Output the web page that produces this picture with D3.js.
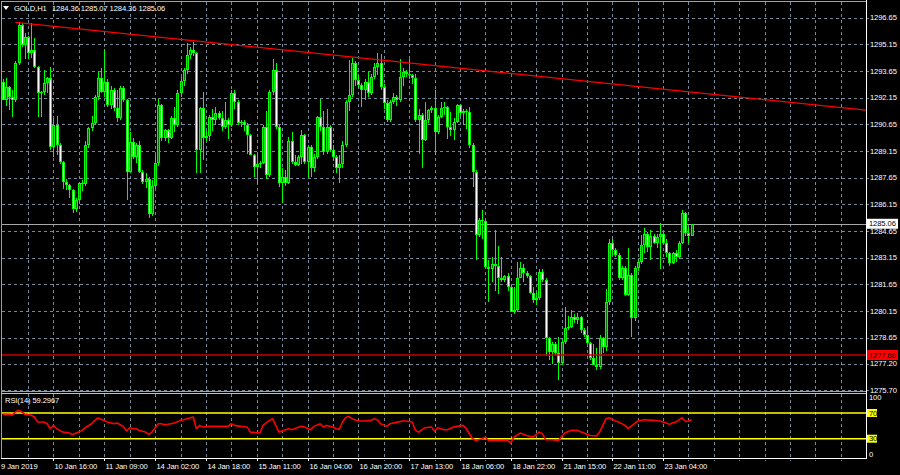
<!DOCTYPE html>
<html><head><meta charset="utf-8">
<script src="https://cdn.jsdelivr.net/npm/d3@7"></script>
<style>html,body{margin:0;padding:0;background:#000;overflow:hidden}svg{display:block}</style>
</head><body>
<svg id="c" width="900" height="475"></svg>
<script>
const symbol = "GOLD,H1";
const opens = [1293.05,1292.02,1292.77,1292.20,1292.00,1294.09,1296.24,1295.11,1295.58,1294.65,1294.83,1293.89,1292.40,1292.49,1293.00,1293.24,1289.40,1290.60,1289.49,1288.55,1287.43,1287.24,1286.96,1285.90,1286.40,1287.34,1287.30,1289.50,1290.43,1290.71,1292.21,1293.24,1292.49,1293.05,1291.74,1292.58,1291.55,1291.00,1292.70,1292.00,1288.00,1289.68,1288.83,1289.50,1288.00,1287.43,1287.60,1285.60,1287.20,1288.46,1291.74,1289.87,1290.33,1289.90,1291.00,1290.60,1292.40,1293.10,1293.70,1294.55,1294.83,1294.65,1289.20,1291.55,1289.87,1290.00,1291.08,1290.90,1291.27,1291.00,1290.52,1290.90,1290.62,1292.40,1291.93,1290.71,1290.80,1290.62,1290.05,1288.93,1288.27,1288.40,1288.46,1290.52,1287.80,1292.49,1293.71,1290.52,1287.34,1287.70,1287.34,1289.70,1288.55,1288.37,1288.80,1290.05,1288.55,1289.40,1288.18,1288.80,1291.08,1290.52,1289.12,1290.50,1289.21,1288.80,1288.18,1288.40,1289.49,1291.93,1292.30,1294.09,1293.15,1292.86,1292.60,1293.05,1292.40,1293.30,1293.90,1294.10,1292.77,1291.83,1290.90,1291.93,1292.20,1292.00,1293.33,1293.60,1293.50,1293.40,1293.24,1290.90,1291.20,1289.77,1290.90,1291.46,1291.55,1290.24,1291.08,1291.55,1291.60,1290.52,1290.33,1290.80,1291.74,1291.27,1291.40,1291.36,1289.49,1287.99,1284.43,1285.27,1285.20,1282.65,1282.50,1282.80,1282.70,1282.00,1281.90,1282.10,1281.52,1280.12,1280.20,1282.00,1282.60,1282.30,1282.10,1281.15,1280.80,1280.90,1282.37,1281.90,1278.62,1277.87,1278.30,1277.78,1277.21,1278.43,1279.20,1279.27,1279.84,1279.65,1279.84,1279.09,1278.80,1278.34,1277.50,1277.12,1277.02,1278.62,1278.15,1280.68,1283.96,1283.59,1283.30,1282.00,1282.56,1281.06,1282.18,1279.74,1282.56,1282.93,1283.87,1284.50,1283.77,1284.40,1284.00,1284.30,1284.50,1284.00,1283.40,1282.84,1283.40,1283.20,1284.00,1285.65,1284.52,1284.36];
const highs = [1293.20,1293.24,1292.80,1292.60,1294.20,1296.40,1296.34,1295.80,1295.60,1296.34,1295.50,1293.95,1292.50,1293.70,1293.30,1293.90,1291.00,1291.10,1289.60,1288.60,1287.60,1287.30,1287.00,1286.50,1287.40,1287.52,1289.70,1290.50,1291.10,1292.30,1293.60,1293.80,1294.90,1293.20,1292.80,1292.70,1292.60,1292.80,1292.80,1292.10,1290.20,1289.90,1289.60,1289.70,1288.10,1287.90,1287.70,1287.50,1288.90,1292.10,1291.80,1290.40,1290.40,1291.10,1291.60,1292.60,1293.30,1293.80,1295.20,1295.00,1295.30,1294.70,1291.60,1292.49,1290.30,1291.20,1291.50,1291.60,1291.40,1291.40,1291.93,1291.00,1292.60,1292.60,1292.00,1290.90,1290.90,1290.70,1290.10,1289.00,1289.00,1288.60,1290.60,1291.40,1292.60,1294.30,1294.09,1290.60,1288.20,1288.10,1289.96,1290.20,1288.90,1288.90,1290.33,1290.10,1289.50,1289.50,1289.00,1291.10,1292.10,1291.40,1291.50,1290.60,1289.50,1288.90,1288.90,1289.70,1292.00,1294.27,1294.40,1294.20,1293.40,1293.00,1293.20,1293.60,1293.50,1294.10,1294.65,1294.60,1292.90,1292.00,1292.00,1292.40,1292.30,1294.35,1293.80,1293.70,1294.35,1293.50,1293.50,1291.50,1291.30,1291.90,1291.50,1291.70,1292.60,1291.20,1291.90,1291.90,1291.70,1291.36,1291.00,1291.80,1291.80,1291.50,1291.50,1291.60,1289.60,1288.10,1285.40,1285.84,1285.30,1283.00,1283.20,1284.70,1283.80,1283.20,1282.20,1282.30,1281.60,1281.50,1282.90,1282.90,1282.80,1282.40,1282.20,1281.50,1281.20,1282.50,1282.50,1282.00,1278.70,1278.40,1278.40,1278.70,1278.50,1280.40,1279.90,1280.20,1280.00,1280.03,1279.90,1279.20,1279.30,1278.40,1278.30,1278.10,1278.80,1278.70,1281.40,1284.20,1284.20,1283.70,1283.40,1282.70,1282.70,1283.68,1282.30,1282.70,1283.10,1284.43,1284.81,1284.60,1284.70,1284.50,1284.50,1285.09,1284.60,1284.20,1283.50,1283.50,1283.60,1284.10,1285.84,1285.70,1284.90,1285.07];
const lows = [1292.00,1291.70,1291.46,1291.08,1291.90,1294.00,1295.00,1294.30,1294.30,1294.40,1293.80,1291.08,1291.08,1292.30,1292.40,1289.20,1288.80,1288.90,1288.40,1287.00,1286.96,1286.50,1285.65,1285.70,1286.20,1286.90,1287.20,1289.30,1290.30,1290.60,1292.00,1292.40,1292.20,1291.60,1291.50,1291.40,1290.80,1290.90,1291.90,1286.40,1287.90,1288.70,1288.50,1287.90,1287.30,1287.10,1285.37,1285.50,1287.10,1288.30,1289.70,1289.70,1289.60,1289.80,1290.20,1290.50,1292.20,1292.80,1293.50,1294.30,1294.50,1287.90,1287.90,1288.65,1289.70,1289.70,1290.30,1290.60,1290.90,1290.30,1290.40,1289.80,1290.50,1291.50,1290.60,1290.50,1290.30,1289.00,1288.90,1287.70,1287.24,1288.20,1288.40,1287.60,1287.70,1292.30,1290.40,1287.15,1286.21,1287.20,1287.30,1288.40,1288.30,1288.30,1288.40,1288.40,1287.71,1287.71,1288.00,1288.70,1290.30,1288.90,1289.00,1289.10,1288.60,1287.90,1287.34,1288.20,1289.40,1291.40,1292.20,1292.80,1292.70,1291.60,1292.00,1292.20,1292.30,1293.20,1293.40,1292.60,1291.50,1290.80,1290.80,1291.80,1291.70,1291.90,1292.80,1293.30,1293.20,1292.90,1290.80,1289.00,1288.18,1289.70,1290.70,1291.30,1288.93,1290.10,1291.00,1291.20,1289.80,1290.00,1289.77,1290.70,1291.10,1290.60,1290.40,1289.30,1287.15,1283.00,1284.30,1284.20,1282.50,1280.68,1281.80,1281.30,1281.10,1281.80,1281.80,1281.30,1280.10,1280.00,1280.10,1282.00,1281.80,1282.00,1281.10,1280.60,1280.50,1280.80,1281.80,1277.60,1277.40,1277.20,1277.70,1276.27,1277.10,1278.30,1279.10,1279.20,1279.50,1279.40,1278.90,1278.70,1278.30,1277.40,1277.10,1276.84,1276.90,1277.80,1277.90,1280.50,1283.30,1283.20,1281.90,1281.90,1281.00,1281.00,1278.71,1279.60,1282.40,1282.80,1283.40,1283.50,1283.00,1283.90,1283.70,1282.50,1283.90,1283.20,1282.70,1282.80,1282.90,1283.10,1283.90,1284.40,1284.00,1284.36];
const closes = [1292.02,1292.77,1292.20,1292.00,1294.09,1296.24,1295.11,1295.58,1294.65,1294.83,1293.89,1292.40,1292.49,1293.00,1293.24,1289.40,1290.60,1289.49,1288.55,1287.43,1287.24,1286.96,1285.90,1286.40,1287.34,1287.30,1289.50,1290.43,1290.71,1292.21,1293.24,1292.49,1293.05,1291.74,1292.58,1291.55,1291.00,1292.70,1292.00,1288.00,1289.68,1288.83,1289.50,1288.00,1287.43,1287.60,1285.60,1287.20,1288.46,1291.74,1289.87,1290.33,1289.90,1291.00,1290.60,1292.40,1293.10,1293.70,1294.55,1294.83,1294.65,1289.20,1291.55,1289.87,1290.00,1291.08,1290.90,1291.27,1291.00,1290.52,1290.90,1290.62,1292.40,1291.93,1290.71,1290.80,1290.62,1290.05,1288.93,1288.27,1288.40,1288.46,1290.52,1287.80,1292.49,1293.71,1290.52,1287.34,1287.70,1287.34,1289.70,1288.55,1288.37,1288.80,1290.05,1288.55,1289.40,1288.18,1288.80,1291.08,1290.52,1289.12,1290.50,1289.21,1288.80,1288.18,1288.40,1289.49,1291.93,1292.30,1294.09,1293.15,1292.86,1292.60,1293.05,1292.40,1293.30,1293.90,1294.10,1292.77,1291.83,1290.90,1291.93,1292.20,1292.00,1293.33,1293.60,1293.50,1293.40,1293.24,1290.90,1291.20,1289.77,1290.90,1291.46,1291.55,1290.24,1291.08,1291.55,1291.60,1290.52,1290.33,1290.80,1291.74,1291.27,1291.40,1291.36,1289.49,1287.99,1284.43,1285.27,1285.20,1282.65,1282.50,1282.80,1282.70,1282.00,1281.90,1282.10,1281.52,1280.12,1280.20,1282.00,1282.60,1282.30,1282.10,1281.15,1280.80,1280.90,1282.37,1281.90,1278.62,1277.87,1278.30,1277.78,1277.21,1278.43,1279.20,1279.27,1279.84,1279.65,1279.84,1279.09,1278.80,1278.34,1277.50,1277.12,1277.02,1278.62,1278.15,1280.68,1283.96,1283.59,1283.30,1282.00,1282.56,1281.06,1282.18,1279.74,1282.56,1282.93,1283.87,1284.50,1283.77,1284.40,1284.00,1284.30,1284.50,1284.00,1283.40,1282.84,1283.40,1283.20,1284.00,1285.65,1284.52,1284.36,1285.06];

const timeLabels = ["9 Jan 2019","10 Jan 16:00","11 Jan 09:00","14 Jan 02:00","14 Jan 18:00","15 Jan 11:00","16 Jan 04:00","16 Jan 20:00","17 Jan 13:00","18 Jan 06:00","18 Jan 22:00","21 Jan 15:00","22 Jan 11:00","23 Jan 04:00"];
const timeLabelBars = [0,16,32,48,64,80,96,112,128,144,160,176,192,208];
const priceTicks = [1296.65,1295.15,1293.65,1292.15,1290.65,1289.15,1287.65,1286.15,1284.65,1283.15,1281.65,1280.15,1278.65,1277.20,1275.70];
const trendAnchors = [[4,1296.39],[214,1292.52]];
const levelPrice = 1277.68;
const bidPrice = 1285.06;

const rsiBars = [0,2,3,4,5,6,7,9,10,11,13,14,15,16,17,18,19,21,22,24,25,26,28,29,30,32,33,35,36,38,39,40,41,42,43,45,46,47,49,50,51,53,54,56,57,60,61,62,63,65,67,71,72,73,75,77,78,81,82,84,85,86,87,88,90,91,94,95,97,98,100,101,102,104,105,106,107,108,109,110,112,114,116,117,118,119,121,122,124,126,127,129,130,131,133,135,136,137,139,140,142,143,145,146,147,148,149,151,152,153,157,159,160,161,163,165,167,169,170,171,173,175,177,179,181,183,185,187,188,190,191,193,194,196,197,199,200,202,205,207,209,210,211,212,214,215,216,217];
const rsiValues = [67.9,67.9,66.4,71.6,74.2,71.6,67.9,66.4,63.8,55.9,55.9,53.3,45.5,50.7,45.5,42.9,40.3,38.8,36.7,40.3,42.9,47.1,53.3,58.5,62.2,58.5,55.9,53.3,54.4,49.2,41.9,47.1,45.5,45.5,42.9,40.3,36.7,40.3,53.3,53.3,51.8,53.3,54.4,58.5,59.6,63.8,45.5,50.7,48.1,49.2,49.2,49.2,53.3,50.7,49.2,48.1,40.3,38.8,50.7,58.5,61.1,50.7,40.3,41.9,45.5,44.0,49.5,48.1,44.0,49.2,53.3,48.1,50.7,48.1,45.5,44.5,55.9,62.7,64.8,61.1,57.5,57.5,58.5,61.1,59.6,53.3,49.2,53.3,55.4,57.5,57.5,55.9,42.9,40.3,47.1,48.1,41.9,47.1,44.0,44.0,48.1,49.2,50.7,45.5,37.7,29.9,27.3,29.9,32.5,27.3,27.3,27.3,23.1,32.5,38.8,35.1,32.5,40.3,37.7,28.3,28.3,27.3,38.8,42.9,42.9,38.8,35.1,34.1,40.3,61.1,62.7,57.5,55.9,50.7,45.5,53.3,57.5,59.6,58.5,57.5,54.4,52.3,54.9,55.9,62.7,57.0,57.5,59.2967];
const rsiPeriod = 14;
const rsiLevels = [70,30];
const rsiTicks = [100,70,30,0];

const svg = d3.select("#c");
const W = 900, H = 475;
const L = 2, R = 866, mainTop = 2, mainBot = 391.5, rsiTop = 393.5, rsiBot = 458;
const gridColor = "#778899";
const font = "'Liberation Sans', Arial, sans-serif";
const fs = 7.6;

const x = d3.scaleLinear().domain([0, 272]).range([2.7, 866.3]);
const y = d3.scaleLinear().domain([1275.70, 1296.65]).range([390.2, 17.7]);
const r = d3.scaleLinear().domain([0, 100]).range([458, 393.7]);

svg.append("rect").attr("width", W).attr("height", H).attr("fill", "#000");
const defs = svg.append("defs");
defs.append("clipPath").attr("id", "mclip").append("rect").attr("x", L).attr("y", mainTop).attr("width", R - L).attr("height", mainBot - mainTop);
defs.append("clipPath").attr("id", "rclip").append("rect").attr("x", L).attr("y", rsiTop).attr("width", R - L).attr("height", rsiBot - rsiTop);

const px = v => Math.round(v) + 0.5;

// grid
const gridBars = d3.range(8, 272, 8);
const grid = svg.append("g").attr("stroke", gridColor).attr("stroke-dasharray", "3,3").attr("stroke-width", 1).attr("shape-rendering", "crispEdges");
grid.selectAll("line.vm").data(gridBars).join("line").attr("class", "vm")
  .attr("x1", d => px(x(d))).attr("x2", d => px(x(d))).attr("y1", mainTop).attr("y2", mainBot);
grid.selectAll("line.vr").data(gridBars).join("line").attr("class", "vr")
  .attr("x1", d => px(x(d))).attr("x2", d => px(x(d))).attr("y1", rsiTop).attr("y2", rsiBot + 3);
grid.selectAll("line.h").data(priceTicks).join("line").attr("class", "h")
  .attr("x1", L).attr("x2", R + 3).attr("y1", d => px(y(d))).attr("y2", d => px(y(d)));

// bid line
svg.append("line").attr("x1", L).attr("x2", R).attr("y1", px(y(bidPrice))).attr("y2", px(y(bidPrice)))
  .attr("stroke", "#a8a8a8").attr("stroke-width", 1).attr("shape-rendering", "crispEdges");

// candles
const candles = d3.range(closes.length).map(i => ({i, o: opens[i], h: highs[i], l: lows[i], c: closes[i]}));
const cg = svg.append("g").attr("clip-path", "url(#mclip)").attr("shape-rendering", "crispEdges");
cg.selectAll("line.wick").data(candles).join("line").attr("class", "wick")
  .attr("x1", d => px(x(d.i))).attr("x2", d => px(x(d.i)))
  .attr("y1", d => y(d.h)).attr("y2", d => y(d.l))
  .attr("stroke", "#00ff00").attr("stroke-width", 1);
cg.selectAll("rect.body").data(candles).join("rect").attr("class", "body")
  .attr("x", d => Math.round(x(d.i)) - 1).attr("width", 3)
  .attr("y", d => y(Math.max(d.o, d.c)))
  .attr("height", d => Math.max(1, Math.abs(y(d.o) - y(d.c))))
  .attr("fill", "#00ff00");
cg.selectAll("rect.inner").data(candles.filter(d => Math.abs(y(d.o) - y(d.c)) > 2)).join("rect").attr("class", "inner")
  .attr("x", d => Math.round(x(d.i))).attr("width", 1)
  .attr("y", d => y(Math.max(d.o, d.c)) + 1)
  .attr("height", d => Math.abs(y(d.o) - y(d.c)) - 2)
  .attr("fill", d => d.c >= d.o ? "#007800" : "#ffffff");

// horizontal level
svg.append("line").attr("x1", L).attr("x2", R).attr("y1", y(levelPrice)).attr("y2", y(levelPrice))
  .attr("stroke", "#c80000").attr("stroke-width", 1.6);

// trend line (ray)
const slope = (trendAnchors[1][1] - trendAnchors[0][1]) / (trendAnchors[1][0] - trendAnchors[0][0]);
const endBar = 272;
svg.append("line").attr("clip-path", "url(#mclip)")
  .attr("x1", x(trendAnchors[0][0])).attr("y1", y(trendAnchors[0][1]))
  .attr("x2", x(endBar)).attr("y2", y(trendAnchors[0][1] + slope * (endBar - trendAnchors[0][0])))
  .attr("stroke", "#ff0000").attr("stroke-width", 1.2);

// RSI levels
svg.selectAll("line.lvl").data(rsiLevels).join("line").attr("class", "lvl")
  .attr("x1", L).attr("x2", R).attr("y1", d => r(d)).attr("y2", d => r(d))
  .attr("stroke", "#ffff00").attr("stroke-width", 1.5);
// RSI line
const rsiData = rsiBars.map((b, k) => [b, rsiValues[k]]);
svg.append("path").attr("clip-path", "url(#rclip)").datum(rsiData)
  .attr("d", d3.line().x(d => x(d[0])).y(d => r(d[1])))
  .attr("fill", "none").attr("stroke", "#ff0000").attr("stroke-width", 1.6).attr("stroke-linejoin", "round");

// borders
const bg = svg.append("g").attr("fill", "none").attr("shape-rendering", "crispEdges");
bg.append("line").attr("x1", 1.5).attr("x2", 1.5).attr("y1", 1).attr("y2", rsiBot).attr("stroke", "#a0a0a0");
bg.append("line").attr("x1", 1).attr("x2", R).attr("y1", 1.5).attr("y2", 1.5).attr("stroke", "#a0a0a0");
bg.append("line").attr("x1", 1).attr("x2", R).attr("y1", 391.5).attr("y2", 391.5).attr("stroke", "#a0a0a0");
bg.append("line").attr("x1", 1).attr("x2", R).attr("y1", 393.5).attr("y2", 393.5).attr("stroke", "#c0c0c0");
bg.append("line").attr("x1", R + 0.5).attr("x2", R + 0.5).attr("y1", 0).attr("y2", rsiBot + 1).attr("stroke", "#ffffff");
bg.append("line").attr("x1", 1).attr("x2", R + 1).attr("y1", rsiBot + 0.5).attr("y2", rsiBot + 0.5).attr("stroke", "#ffffff");

// price axis labels
const txt = svg.append("g").attr("font-family", font).attr("font-size", fs).attr("fill", "#ffffff").attr("letter-spacing", "-0.1");
txt.selectAll("text.p").data(priceTicks).join("text").attr("class", "p")
  .attr("x", 870).attr("y", d => y(d)).attr("dy", "0.35em").text(d => d.toFixed(2));

// bid label box
const bidY = y(bidPrice);
svg.append("rect").attr("x", 867).attr("y", bidY - 5).attr("width", 31).attr("height", 10).attr("fill", "#ffffff");
svg.append("text").attr("x", 869).attr("y", bidY).attr("dy", "0.35em").attr("font-family", font).attr("font-size", fs)
  .attr("letter-spacing", "-0.1").attr("fill", "#000").text(bidPrice.toFixed(2));
// level label box
const lvY = y(levelPrice);
svg.append("rect").attr("x", 867).attr("y", lvY - 5).attr("width", 31).attr("height", 10).attr("fill", "#ff0000");
svg.append("text").attr("x", 869).attr("y", lvY).attr("dy", "0.35em").attr("font-family", font).attr("font-size", fs)
  .attr("letter-spacing", "-0.1").attr("fill", "#000").text(levelPrice.toFixed(2));

// RSI axis labels
rsiTicks.forEach(t => {
  const isLvl = rsiLevels.includes(t);
  if (isLvl) svg.append("rect").attr("x", 867).attr("y", r(t) - 4).attr("width", 10).attr("height", 8).attr("fill", "#ffff00");
  svg.append("text").attr("x", 869).attr("y", r(t) + (t === 100 ? 4 : t === 0 ? -4 : 0)).attr("dy", "0.35em")
    .attr("font-family", font).attr("font-size", fs).attr("letter-spacing", "-0.1")
    .attr("fill", isLvl ? "#000" : "#fff").text(t);
});

// time labels
txt.selectAll("text.t").data(timeLabels).join("text").attr("class", "t")
  .attr("x", (d, k) => k === 0 ? 1 : px(x(timeLabelBars[k])) + 1).attr("y", 469).text(d => d);
svg.append("g").attr("stroke", "#ffffff").attr("shape-rendering", "crispEdges")
  .selectAll("line").data(timeLabelBars.slice(1)).join("line")
  .attr("x1", d => px(x(d))).attr("x2", d => px(x(d))).attr("y1", rsiBot).attr("y2", rsiBot + 3);

// header
svg.append("path").attr("d", "M3,6 L9,6 L6,10 Z").attr("fill", "#ffffff");
txt.append("text").attr("x", 14).attr("y", 10.5).text(symbol);
const last = closes.length - 1;
const ohlc = [opens[last], highs[last], lows[last], closes[last]];
txt.selectAll("text.o").data(ohlc).join("text").attr("class", "o")
  .attr("x", (d, k) => 52 + k * 28.8).attr("y", 10.5).text(d => d.toFixed(2));
txt.append("text").attr("x", 5).attr("y", 403).text("RSI(" + rsiPeriod + ") " + rsiValues[rsiValues.length - 1].toFixed(4));
</script>
</body></html>
